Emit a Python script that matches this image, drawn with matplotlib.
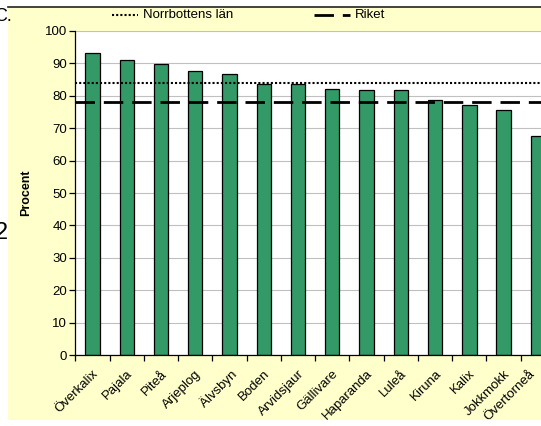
import numpy as np
import matplotlib.pyplot as plt
import matplotlib.transforms as mtransforms
from matplotlib.patches import Rectangle
from matplotlib.lines import Line2D

plt.rcParams['font.family'] = ['Liberation Sans', 'DejaVu Sans']

# data
kommuner = ["Överkalix", "Pajala", "Piteå", "Arjeplog", "Älvsbyn", "Boden",
            "Arvidsjaur", "Gällivare", "Haparanda", "Luleå", "Kiruna", "Kalix",
            "Jokkmokk", "Övertorneå"]
procent = [93.2, 91.1, 89.6, 87.5, 86.8, 83.6, 83.6, 81.9, 81.6, 81.6,
           78.7, 77.0, 75.5, 67.5]
norrbotten = 84.0
riket = 77.9

W, H = 541, 426
fig = plt.figure(figsize=(W / 100, H / 100), dpi=100)
fig.patch.set_facecolor("white")

# light yellow chart area with dark top border
fig.add_artist(Rectangle((8 / W, 1 - 420 / H), 1.1, (420 - 7) / H,
                         transform=fig.transFigure, facecolor="#FFFFCC",
                         edgecolor="none", zorder=0))
fig.add_artist(Line2D([8 / W, 1.0], [1 - 7 / H, 1 - 7 / H],
                      transform=fig.transFigure, color="#222222", lw=1.2))

# bits of the surrounding document text, cut by the crop
fig.text(-6 / W, 1 - 21 / H, "C.", fontsize=13, ha="left", va="baseline")
fig.text(-5 / W, 1 - 233 / H, "2", fontsize=17, ha="left", va="center")

# plot area (its right edge runs past the crop)
ax = fig.add_axes([75.3 / W, 70.7 / H, (555 - 75.3) / W, (355.3 - 30.7) / H])
ax.set_facecolor("white")

x = np.arange(len(kommuner))
ax.bar(x, procent, width=0.42, color="#339966", edgecolor="black",
       linewidth=0.9, zorder=3)
ax.axhline(norrbotten, color="black", lw=1.5, dashes=(1, 1), zorder=4)
ax.axhline(riket, color="black", lw=2.0, dashes=(7, 3.2), zorder=4)

ax.set_xlim(-0.5, len(kommuner) - 0.5)
ax.set_ylim(0, 100)
ax.set_yticks(np.arange(0, 101, 10))
ax.yaxis.grid(True, color="#C0C0C0", lw=0.8, zorder=0)
ax.set_axisbelow(True)

for s in ["top", "right"]:
    ax.spines[s].set_visible(False)
for s in ["left", "bottom"]:
    ax.spines[s].set_linewidth(0.9)
    ax.spines[s].set_zorder(5)

ax.set_xticks(x)
ax.set_xticklabels(kommuner, rotation=45, ha="right", va="top",
                   rotation_mode="anchor", fontsize=9.5)
ax.set_xticks(np.arange(-0.5, len(kommuner), 1), minor=True)
ax.tick_params(axis="x", which="major", length=0, pad=9)
ax.tick_params(axis="x", which="minor", length=4, width=0.9, direction="out")
ax.tick_params(axis="y", length=4, width=0.9, direction="out", labelsize=9.5, pad=2)

# last label is pulled in so it stays inside the crop, as in the original
last = ax.get_xticklabels()[-1]
last.set_transform(last.get_transform() +
                   mtransforms.ScaledTranslation(-9 / 100, 0, fig.dpi_scale_trans))

fig.text(26 / W, 1 - 193 / H, "Procent", rotation=90, fontsize=9,
         fontweight="bold", ha="center", va="center")

# legend row at the top
ly = 1 - 15 / H
fig.add_artist(Line2D([112 / W, 138 / W], [ly, ly], transform=fig.transFigure,
                      color="black", lw=1.5, dashes=(1, 1)))
fig.text(143 / W, ly, "Norrbottens län", fontsize=9.5, va="center")
fig.add_artist(Line2D([314 / W, 350 / W], [ly, ly], transform=fig.transFigure,
                      color="black", lw=2.0, dashes=(7, 3.2)))
fig.text(355 / W, ly, "Riket", fontsize=9.5, va="center")

fig.savefig("out.png", dpi=100)
